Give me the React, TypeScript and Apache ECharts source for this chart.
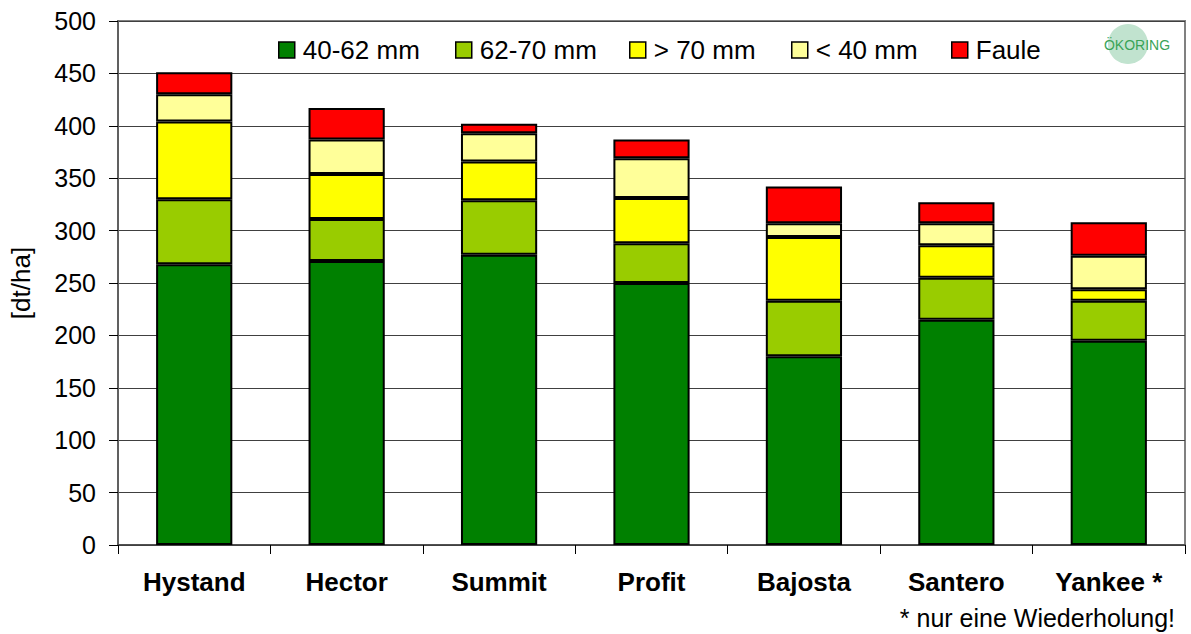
import React, { useEffect, useRef } from "react";
import * as echarts from "echarts";

const categories = ["Hystand", "Hector", "Summit", "Profit", "Bajosta", "Santero", "Yankee *"];
const seriesNames = ["40-62 mm", "62-70 mm", "> 70 mm", "< 40 mm", "Faule"];
const size40to62 = [268, 271, 277, 250, 180, 215, 195];
const size62to70 = [62, 40, 52, 38, 53, 40, 38];
const sizeOver70 = [74, 43, 37, 43, 61, 31, 11];
const sizeUnder40 = [26, 33, 27, 38, 13, 21, 32];
const rotten = [21, 30, 9, 18, 35, 20, 32];
const seriesColors = ["#008000", "#99CC00", "#FFFF00", "#FFFF99", "#FF0000"];
const legendLeft = [278, 455, 629, 791, 951];

const FONT = "Liberation Sans, Arial, sans-serif";

export default function App() {
  const ref = useRef<HTMLDivElement>(null);
  useEffect(() => {
    if (!ref.current) return;
    const chart = echarts.init(ref.current, null, { renderer: "svg" });
    const values = [size40to62, size62to70, sizeOver70, sizeUnder40, rotten];
    const option = {
      animation: false,
      backgroundColor: "#ffffff",
      textStyle: { fontFamily: FONT },
      grid: { left: 117, top: 21, right: 6, bottom: 89, show: true, borderColor: "#808080", borderWidth: 2, backgroundColor: "transparent" },
      legend: seriesNames.map((n, i) => ({
        data: [n],
        left: legendLeft[i],
        top: 37,
        itemWidth: 16,
        itemHeight: 16,
        itemGap: 3,
        padding: 0,
        icon: "rect",
        itemStyle: { borderColor: "#000", borderWidth: 1.5 },
        textStyle: { fontFamily: FONT, fontSize: 26, color: "#000", padding: [0, 0, 0, 3] },
        selectedMode: false,
      })),
      xAxis: {
        type: "category",
        data: categories,
        axisLine: { lineStyle: { color: "#404040", width: 1.5 } },
        axisTick: { show: true, length: 9, lineStyle: { color: "#000" } },
        axisLabel: { fontFamily: FONT, fontSize: 26, fontWeight: "bold", color: "#000", margin: 24 },
      },
      yAxis: {
        type: "value",
        min: 0,
        max: 500,
        interval: 50,
        name: "[dt/ha]",
        nameLocation: "middle",
        nameGap: 84,
        nameTextStyle: { fontFamily: FONT, fontSize: 26, color: "#000" },
        axisLine: { show: true, lineStyle: { color: "#606060", width: 2 } },
        axisTick: { show: true, length: 9, lineStyle: { color: "#000" } },
        axisLabel: { fontFamily: FONT, fontSize: 25, color: "#000", margin: 22 },
        splitLine: { show: true, lineStyle: { color: "#404040", width: 1 } },
      },
      series: seriesNames.map((n, i) => ({
        name: n,
        type: "bar",
        stack: "total",
        data: values[i],
        barWidth: "50%",
        itemStyle: { color: seriesColors[i], borderColor: "#000", borderWidth: 2 },
      })),
      graphic: [
        { type: "circle", shape: { cx: 1128, cy: 44, r: 20 }, style: { fill: "#c1e3cf" }, z: 10 },
        { type: "text", x: 1137, y: 45, style: { text: "ÖKORING", fontFamily: FONT, fontSize: 14, fill: "#3aa357", align: "center", verticalAlign: "middle" }, z: 11 },
        { type: "text", x: 1175, y: 618, style: { text: "* nur eine Wiederholung!", fontFamily: FONT, fontSize: 25, fill: "#000", align: "right", verticalAlign: "middle" } },
      ],
    };
    chart.setOption(option as any);
    return () => chart.dispose();
  }, []);
  return <div ref={ref} style={{ position: "fixed", left: 0, top: 0, width: 1191, height: 634 }} />;
}
